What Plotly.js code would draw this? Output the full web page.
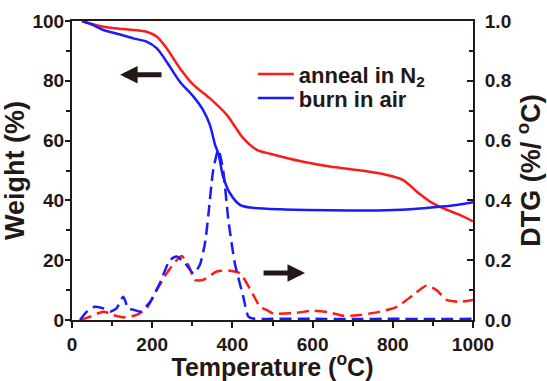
<!DOCTYPE html>
<html><head><meta charset="utf-8">
<script src="https://cdn.plot.ly/plotly-3.0.1.min.js"></script>
<style>html,body{margin:0;padding:0;background:#fff;}#chart{width:547px;height:381px;}</style>
</head><body><div id="chart"></div>
<script>
// Weight (TGA) curves
const n2Temp = [25, 50, 78, 128, 186, 211, 236, 269, 303, 344, 386, 427, 461, 494, 577, 643, 726, 785, 826, 860, 893, 926, 968, 1000];
const n2Weight = [100, 99, 98.1, 97.3, 96.4, 94.8, 90.9, 84.2, 78.6, 74.1, 68.6, 60.8, 56.9, 55.6, 52.9, 51.3, 49.9, 48.5, 46.8, 42.9, 39.6, 37.3, 35.1, 33.0];
const airTemp = [25, 50, 78, 120, 153, 186, 211, 236, 269, 303, 327, 344, 357, 365, 377, 394, 419, 444, 519, 643, 785, 868, 918, 959, 1000];
const airWeight = [100, 98.8, 97, 95.5, 94.2, 93.1, 90.9, 86.4, 79.7, 74.7, 70.2, 65.2, 58.5, 55.7, 47.9, 42.4, 38.5, 37.6, 37.0, 36.7, 36.7, 37.3, 37.9, 38.5, 39.4];
// DTG curves
const n2DtgTemp = [20, 45, 78, 103, 128, 161, 186, 211, 236, 261, 274, 290, 307, 327, 361, 394, 419, 452, 469, 486, 502, 560, 600, 640, 677, 718, 768, 810, 851, 884, 909, 934, 968, 1000];
const n2Dtg = [0, 0.011, 0.028, 0.017, 0.009, 0.017, 0.039, 0.10, 0.156, 0.20, 0.214, 0.184, 0.134, 0.134, 0.162, 0.165, 0.156, 0.084, 0.044, 0.033, 0.022, 0.024, 0.031, 0.026, 0.014, 0.017, 0.028, 0.044, 0.084, 0.115, 0.10, 0.067, 0.061, 0.067];
const airDtgTemp = [20, 37, 57, 78, 95, 111, 128, 140, 157, 170, 195, 219, 244, 261, 282, 303, 319, 332, 340, 352, 365, 377, 390, 406, 427, 440, 455, 500, 600, 700, 800, 900, 1000];
const airDtg = [0, 0.028, 0.044, 0.039, 0.028, 0.039, 0.078, 0.039, 0.033, 0.028, 0.061, 0.123, 0.20, 0.212, 0.19, 0.156, 0.185, 0.26, 0.35, 0.50, 0.57, 0.50, 0.334, 0.19, 0.078, 0.011, 0.004, 0.004, 0.004, 0.003, 0.004, 0.003, 0.004];
const seriesNames = ['anneal in N<sub>2</sub>', 'burn in air'];
const xTickVals = [0, 200, 400, 600, 800, 1000];

const RED = '#ff1a1a', BLUE = '#1a1aff', INK = '#231815';
const FONT = 'Liberation Sans, Arial, sans-serif';
const tickFont = {family: FONT, size: 19, color: INK, weight: 'bold'};
const xTitleFont = {family: FONT, size: 25, color: INK, weight: 'bold'};
const yTitleFont = {family: FONT, size: 27, color: INK, weight: 'bold'};
const legFont = {family: FONT, size: 22, color: INK, weight: 'bold'};

const traces = [
  {x: n2Temp, y: n2Weight, name: seriesNames[0], legend: 'legend', mode: 'lines', line: {color: RED, width: 2.5, shape: 'spline', smoothing: 0.8}},
  {x: airTemp, y: airWeight, name: seriesNames[1], legend: 'legend2', mode: 'lines', line: {color: BLUE, width: 2.5, shape: 'spline', smoothing: 0.8}},
  {x: n2DtgTemp, y: n2Dtg, yaxis: 'y2', showlegend: false, mode: 'lines', line: {color: RED, width: 2.5, dash: '12px,6px', shape: 'spline', smoothing: 0.6}},
  {x: airDtgTemp, y: airDtg, yaxis: 'y2', showlegend: false, mode: 'lines', line: {color: BLUE, width: 2.5, dash: '12px,6px', shape: 'spline', smoothing: 0.6}}
];

const legBase = {xanchor: 'left', yanchor: 'middle', bgcolor: 'rgba(0,0,0,0)', font: legFont, itemwidth: 36};

const layout = {
  width: 547, height: 381,
  margin: {l: 72, r: 74, t: 21, b: 61},
  paper_bgcolor: '#fff', plot_bgcolor: '#fff',
  showlegend: true,
  legend: Object.assign({x: 0.451, y: 0.822}, legBase),
  legend2: Object.assign({x: 0.451, y: 0.742}, legBase),
  xaxis: {range: [0, 1000], tickvals: xTickVals, showgrid: false, zeroline: false,
          showline: true, linecolor: INK, linewidth: 2, mirror: true,
          ticks: 'outside', ticklen: 6, tickwidth: 2, tickcolor: INK,
          minor: {dtick: 100, ticks: 'outside', ticklen: 4, tickwidth: 2, tickcolor: INK},
          tickfont: tickFont,
          title: {text: 'Temperature (<sup>o</sup>C)', font: xTitleFont, standoff: 1}},
  yaxis: {range: [0, 100], dtick: 20, showgrid: false, zeroline: false,
          showline: true, linecolor: INK, linewidth: 2,
          ticks: 'outside', ticklen: 5, tickwidth: 2, tickcolor: INK,
          minor: {dtick: 10, ticks: 'outside', ticklen: 4, tickwidth: 2, tickcolor: INK},
          tickfont: tickFont, ticklabelstandoff: -3,
          title: {text: 'Weight (%)', font: yTitleFont, standoff: 0}},
  yaxis2: {range: [0, 1], dtick: 0.2, tickformat: '.1f', overlaying: 'y', side: 'right',
           showgrid: false, zeroline: false, showline: true, linecolor: INK, linewidth: 2,
           ticks: 'inside', ticklen: 6, tickwidth: 2, tickcolor: INK,
           minor: {dtick: 0.1, ticks: 'inside', ticklen: 4, tickwidth: 2, tickcolor: INK},
           tickfont: tickFont, ticklabelstandoff: 6,
           title: {text: 'DTG (%/ <sup>o</sup>C)', font: yTitleFont, standoff: 4}},
  annotations: [
    {x: 120, y: 82, ax: 227, ay: 82, xref: 'x', yref: 'y', axref: 'x', ayref: 'y', text: '',
     showarrow: true, arrowhead: 2, arrowsize: 0.7, arrowwidth: 5, arrowcolor: INK},
    {x: 581, y: 15.7, ax: 474, ay: 15.7, xref: 'x', yref: 'y', axref: 'x', ayref: 'y', text: '',
     showarrow: true, arrowhead: 2, arrowsize: 0.7, arrowwidth: 5, arrowcolor: INK}
  ]
};

Plotly.newPlot('chart', traces, layout, {displayModeBar: false, staticPlot: true});
</script>
</body></html>
